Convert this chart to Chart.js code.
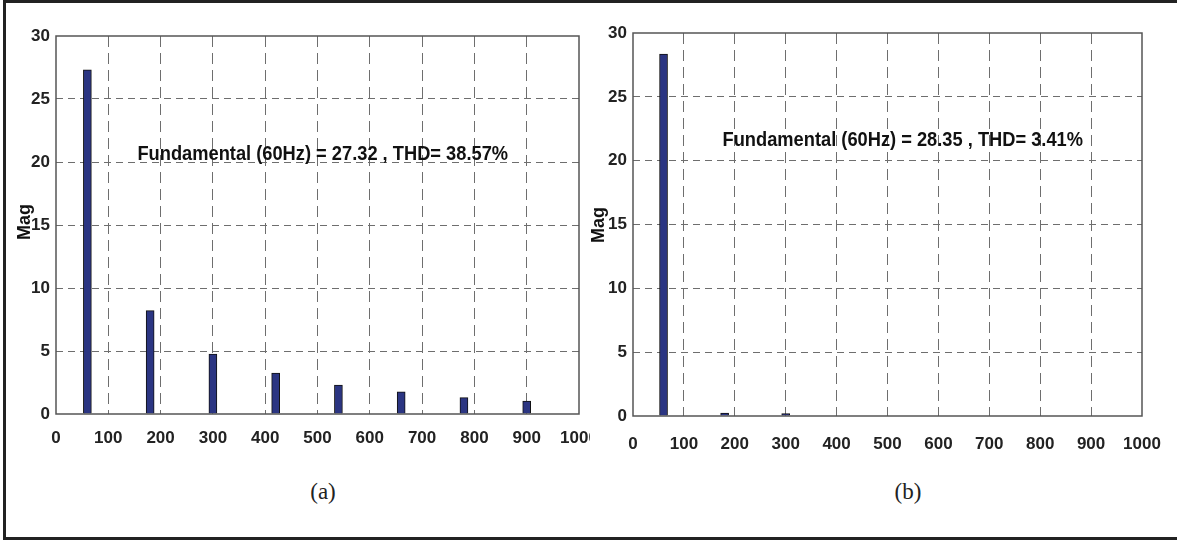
<!DOCTYPE html>
<html>
<head>
<meta charset="utf-8">
<script src="https://cdn.jsdelivr.net/npm/chart.js@4.4.0/dist/chart.umd.min.js"></script>
<style>
    body { margin: 0; background: #fff; width: 1177px; height: 540px; overflow: hidden; position: relative; }
    #frame { position: absolute; left: 3px; top: 0; width: 1200px; height: 534px;
             border-left: 3px solid #222; border-top: 3px solid #222; border-bottom: 3px solid #222; }
    .box { position: absolute; top: 0; }
    .cap { position: absolute; font-family: "Liberation Serif", "Times New Roman", serif; font-size: 23px;
           color: #222; transform: translate(-50%, -50%); }
</style>
</head>
<body>
<div id="frame"></div>
<div class="box" style="left:0; width:590px; height:470px;"><canvas id="chartA"></canvas></div>
<div class="box" style="left:588px; width:589px; height:470px;"><canvas id="chartB"></canvas></div>
<div class="cap" style="left:323px; top:492px;">(a)</div>
<div class="cap" style="left:908px; top:492px;">(b)</div>

<script>
// harmonic spectrum, case (a)
const freqA = [60, 180, 300, 420, 540, 660, 780, 900];
const magA = [27.32, 8.2, 4.76, 3.25, 2.3, 1.75, 1.3, 1.02];

// harmonic spectrum, case (b)
const freqB = [60, 180, 300];
const magB = [28.35, 0.22, 0.18];

const xTicks = [0, 100, 200, 300, 400, 500, 600, 700, 800, 900, 1000];
const yTicks = [0, 5, 10, 15, 20, 25, 30];

const noteA = 'Fundamental (60Hz) = 27.32 , THD= 38.57%';
const noteB = 'Fundamental (60Hz) = 28.35 , THD= 3.41%';

const tickFont = { family: '"Liberation Sans", Arial, sans-serif', size: 17, weight: 'bold' };

// box round the plot, text note and "Mag" label
const extras = {
    id: 'extras',
    afterDraw(chart, args, opts) {
        let ctx = chart.ctx;
        let a = chart.chartArea;
        ctx.save();
        ctx.strokeStyle = '#555';
        ctx.lineWidth = 1.5;
        ctx.setLineDash([]);
        ctx.strokeRect(a.left, a.top, a.right - a.left, a.bottom - a.top);

        ctx.fillStyle = '#111';
        ctx.textAlign = 'center';
        ctx.textBaseline = 'middle';
        let nx = chart.scales.x.getPixelForValue(opts.noteX);
        let ny = chart.scales.y.getPixelForValue(opts.noteY);
        ctx.save();
        ctx.translate(nx, ny);
        ctx.scale(0.87, 1); // narrow, tall lettering like the original
        ctx.font = 'bold 21px "Liberation Sans", Arial, sans-serif';
        ctx.fillText(opts.note, 0, 0);
        ctx.restore();

        ctx.font = 'bold 18px "Liberation Sans", Arial, sans-serif';
        ctx.translate(opts.magX, opts.magY);
        ctx.rotate(-Math.PI / 2);
        ctx.fillText('Mag', 0, 0);
        ctx.restore();
    }
};

function makeChart(id, freq, mag, o) {
    let points = freq.map((f, i) => ({ x: f, y: mag[i] }));
    let ctx = document.getElementById(id).getContext('2d');
    return new Chart(ctx, {
        type: 'bar',
        data: {
            datasets: [{
                data: points,
                backgroundColor: '#2b3582',
                borderColor: '#111',
                borderWidth: 1,
                barThickness: 8
            }]
        },
        plugins: [extras],
        options: {
            responsive: true,
            maintainAspectRatio: false,
            animation: false,
            layout: { padding: { left: 0, top: o.top, right: o.right, bottom: 0 } },
            plugins: {
                legend: { display: false },
                tooltip: { enabled: false },
                extras: { note: o.note, noteX: o.noteX, noteY: o.noteY, magX: o.magX, magY: o.magY }
            },
            scales: {
                x: {
                    type: 'linear',
                    min: 0,
                    max: 1000,
                    offset: false,
                    afterBuildTicks: s => { s.ticks = xTicks.map(v => ({ value: v })); },
                    afterFit: s => { s.height = o.xh; s.paddingLeft = 0; s.paddingRight = 0; },
                    grid: {
                        offset: false,
                        drawTicks: false,
                        color: c => (c.tick && (c.tick.value === 0 || c.tick.value === 1000)) ? 'rgba(0,0,0,0)' : '#6e6e6e',
                        lineWidth: 1
                    },
                    border: { display: false, dash: [11, 6] },
                    ticks: { font: tickFont, color: '#222', padding: o.xpad, maxRotation: 0, autoSkip: false,
                             callback: v => String(v) }
                },
                y: {
                    min: 0,
                    max: 30,
                    afterBuildTicks: s => { s.ticks = yTicks.map(v => ({ value: v })); },
                    afterFit: s => { s.width = o.yw; s.paddingTop = 0; s.paddingBottom = 0; },
                    grid: {
                        drawTicks: false,
                        color: c => (c.tick && (c.tick.value === 0 || c.tick.value === 30)) ? 'rgba(0,0,0,0)' : '#6e6e6e',
                        lineWidth: 1
                    },
                    border: { display: false, dash: [7, 5] },
                    ticks: { font: tickFont, color: '#222', padding: 6, callback: v => String(v) }
                }
            }
        }
    });
}

makeChart('chartA', freqA, magA, {
    top: 36, right: 11, xh: 56, yw: 56, xpad: 14,
    note: noteA, noteX: 510, noteY: 20.6, magX: 25, magY: 222
});

makeChart('chartB', freqB, magB, {
    top: 33, right: 35, xh: 54, yw: 45, xpad: 18,
    note: noteB, noteX: 530, noteY: 21.6, magX: 11, magY: 225
});
</script>
</body>
</html>
